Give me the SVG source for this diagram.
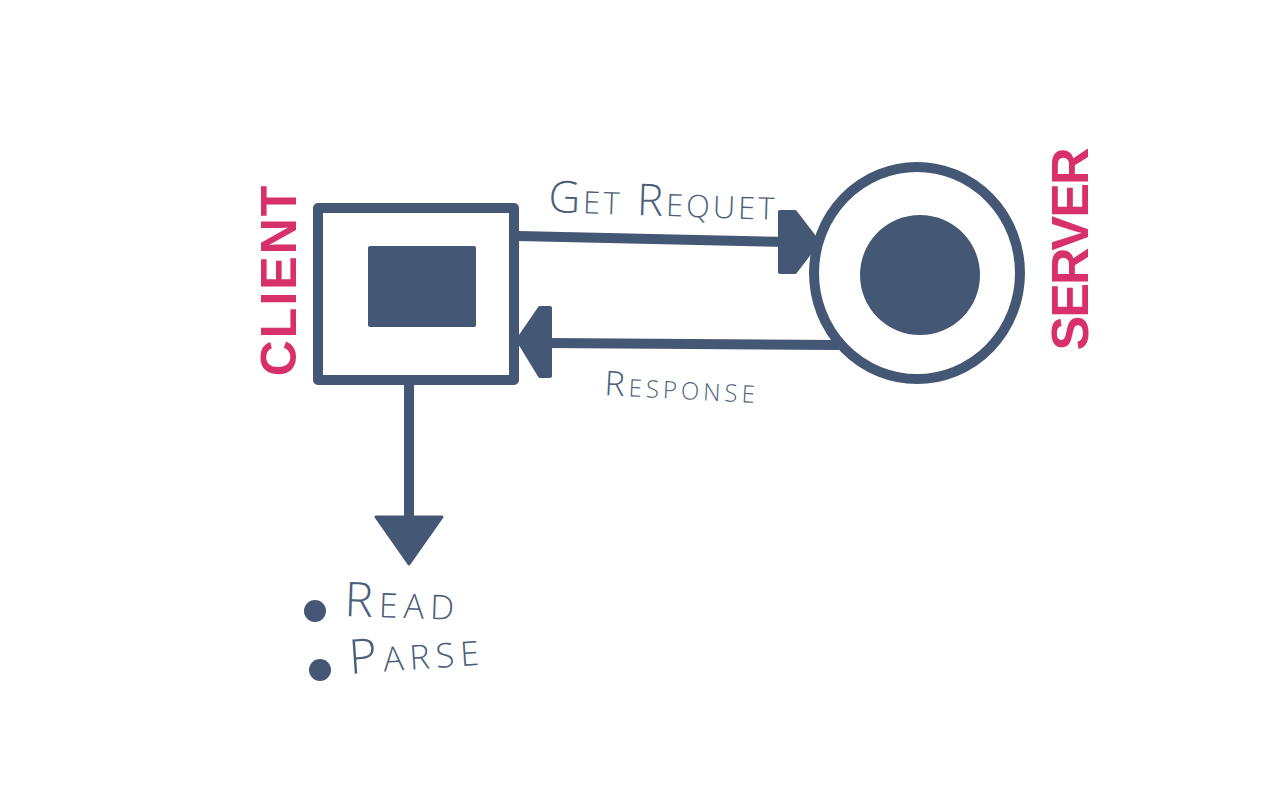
<svg xmlns="http://www.w3.org/2000/svg" width="1280" height="789" viewBox="0 0 1280 789">
<style>
.ln{stroke:#445774;stroke-width:10;fill:none;stroke-linecap:round;stroke-linejoin:round}
.fl{fill:#445774}
.hand{font-family:"Open Sans","Liberation Sans",sans-serif;font-weight:300;fill:#4d5f7b;font-variant:small-caps}
.pink{font-family:"Liberation Sans",sans-serif;font-weight:bold;fill:#d8306a;letter-spacing:2px}
</style>
<rect width="1280" height="789" fill="#ffffff"/>
<g id="connectors">
<line class="ln" x1="518" y1="236" x2="790" y2="242"/>
<polygon class="fl" points="780,212 795,212 818,242 795,272 780,272" stroke="#445774" stroke-width="4" stroke-linejoin="round"/>
<line class="ln" x1="838" y1="345" x2="545" y2="343"/>
<polygon class="fl" points="550,308 540,308 518,340 540,376 550,376" stroke="#445774" stroke-width="4" stroke-linejoin="round"/>
<line class="ln" x1="409" y1="383" x2="409" y2="520"/>
<polygon class="fl" points="376,517 442,517 409,564" stroke="#445774" stroke-width="3" stroke-linejoin="round"/>
</g>
<g id="client">
<rect class="ln" x="318" y="208" width="196" height="172" stroke-linecap="butt" stroke-linejoin="miter"/>
<rect class="fl" x="368" y="246" width="108" height="81" rx="2"/>
<text class="pink" font-size="50" transform="translate(296,280) rotate(-90)" text-anchor="middle">CLIENT</text>
</g>
<g id="server">
<ellipse class="ln" cx="917" cy="273" rx="103" ry="106"/>
<circle class="fl" cx="920" cy="275" r="60"/>
<text class="pink" font-size="52" transform="translate(1088,248) rotate(-90)" text-anchor="middle" textLength="205" lengthAdjust="spacing">SERVER</text>
</g>
<g id="labels">
<text class="hand" x="548" y="212" font-size="44" letter-spacing="3" transform="rotate(2 548 212)">Get Requet</text>
<text class="hand" x="604" y="395" font-size="34" letter-spacing="4" transform="rotate(3 604 395)">Response</text>
</g>
<g id="list">
<circle class="fl" cx="315" cy="611" r="11"/>
<circle class="fl" cx="320" cy="670" r="11"/>
<text class="hand" x="344" y="616" font-size="48" letter-spacing="6" transform="rotate(2 344 616)">Read</text>
<text class="hand" x="350" y="674" font-size="48" letter-spacing="6" transform="rotate(-4 350 674)">Parse</text>
</g>
</svg>
